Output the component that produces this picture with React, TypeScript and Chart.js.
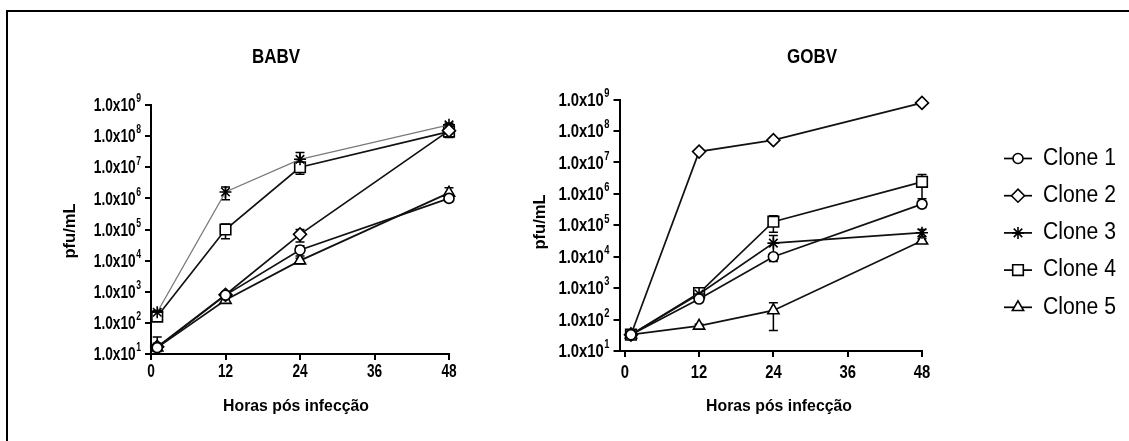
import React, { useEffect, useRef } from 'react';
import { Chart, registerables } from 'chart.js';
import { drawPoint } from 'chart.js/helpers';

Chart.register(...registerables);

// ---------- data ----------
const hours = [1, 12, 24, 48];
const xTicks = [0, 12, 24, 36, 48];
const yTicks = [1e1, 1e2, 1e3, 1e4, 1e5, 1e6, 1e7, 1e8, 1e9];
const yTickExponents = ['1', '2', '3', '4', '5', '6', '7', '8', '9'];
const seriesNames = ['Clone 1', 'Clone 2', 'Clone 3', 'Clone 4', 'Clone 5'];
const pointStyles = ['circle', 'rectRot', 'star', 'rect', 'triangle'];
const xAxisTitle = 'Horas pós infecção';
const yAxisTitle = 'pfu/mL';

// BABV
const babvClone1 = [16, 780, 22000, 1.0e6];
const babvClone2 = [17, 800, 70000, 1.5e8];
const babvClone3 = [220, 1.6e6, 1.8e7, 2.3e8];
const babvClone4 = [160, 1.0e5, 1.0e7, 1.4e8];
const babvClone5 = [16, 540, 10000, 1.5e6];
const babvErr1 = [6, 100, 8000, 1.0e5];
const babvErr2 = [18, 100, 30000, 3.0e7];
const babvErr3 = [30, 7.0e5, 1.2e7, 3.0e7];
const babvErr4 = [30, 5.0e4, 3.0e6, 5.0e7];
const babvErr5 = [4, 50, 2000, 7.0e5];

// GOBV
const gobvClone1 = [33, 450, 10000, 4.7e5];
const gobvClone2 = [33, 2.2e7, 5.1e7, 7.8e8];
const gobvClone3 = [33, 650, 27000, 5.8e4];
const gobvClone4 = [33, 700, 1.3e5, 2.4e6];
const gobvClone5 = [33, 63, 195, 3.2e4];
const gobvErr1 = [5, 80, 2000, 1.0e5];
const gobvErr2 = [5, 2.0e6, 5.0e6, 8.0e7];
const gobvErr3 = [5, 100, 2.0e4, 1.5e4];
const gobvErr4 = [5, 100, 7.0e4, 1.7e6];
const gobvErr5 = [5, 8, 150, 5000];

// ---------- layout / style ----------
const W = 1129;
const H = 441;
const FF = "'Liberation Sans', Arial, Helvetica, sans-serif";
const pointRadii = [5, 6.5, 6, 7.5, 6.5];

type Area = { left: number; right: number; top: number; bottom: number };
type PanelCfg = {
  title: string;
  series: number[][];
  errors: number[][];
  lineColors: string[];
  lineWidths: number[];
  canvasLeft: number;
  canvasWidth: number;
  area: Area;
  xMin: number;
  sx: number;
  titleX: number;
  titleY: number;
  yTitleX: number;
  yTitleY: number;
  xTickY: number;
  xTitleX: number;
  xTitleY: number;
  legend: boolean;
};

const panels: PanelCfg[] = [
  {
    title: 'BABV',
    series: [babvClone1, babvClone2, babvClone3, babvClone4, babvClone5],
    errors: [babvErr1, babvErr2, babvErr3, babvErr4, babvErr5],
    lineColors: ['#111', '#111', '#7a7a7a', '#111', '#111'],
    lineWidths: [1.7, 1.7, 1.3, 1.7, 1.7],
    canvasLeft: 0,
    canvasWidth: 500,
    area: { left: 151, right: 449, top: 105, bottom: 354 },
    xMin: 0,
    sx: 0.72,
    titleX: 276,
    titleY: 57,
    yTitleX: 70,
    yTitleY: 231,
    xTickY: 372,
    xTitleX: 296,
    xTitleY: 406,
    legend: false,
  },
  {
    title: 'GOBV',
    series: [gobvClone1, gobvClone2, gobvClone3, gobvClone4, gobvClone5],
    errors: [gobvErr1, gobvErr2, gobvErr3, gobvErr4, gobvErr5],
    lineColors: ['#111', '#111', '#111', '#111', '#111'],
    lineWidths: [1.7, 1.7, 1.7, 1.7, 1.7],
    canvasLeft: 500,
    canvasWidth: 629,
    area: { left: 619.5, right: 922, top: 99.5, bottom: 351 },
    xMin: -0.85,
    sx: 0.78,
    titleX: 812,
    titleY: 57,
    yTitleX: 540,
    yTitleY: 222,
    xTickY: 373,
    xTitleX: 779,
    xTitleY: 406,
    legend: true,
  },
];

const legendX = 1018;
const legendLine = 14;
const legendTextX = 1043;
const legendY0 = 158.5;
const legendStep = 37.2;

function txt(
  ctx: CanvasRenderingContext2D,
  s: string,
  x: number,
  y: number,
  font: string,
  align: CanvasTextAlign,
  sx: number,
  rot = 0
) {
  ctx.save();
  ctx.translate(x, y);
  if (rot) ctx.rotate(rot);
  ctx.scale(sx, 1);
  ctx.font = font;
  ctx.textAlign = align;
  ctx.textBaseline = 'middle';
  ctx.fillStyle = '#000';
  ctx.fillText(s, 0, 0);
  ctx.restore();
}

function buildConfig(cfg: PanelCfg): any {
  const off = cfg.canvasLeft;
  const datasets = cfg.series.map((vals, i) => ({
    label: seriesNames[i],
    data: hours.map((h, j) => ({ x: h, y: vals[j] })),
    borderColor: cfg.lineColors[i],
    borderWidth: cfg.lineWidths[i],
    pointStyle: pointStyles[i],
    pointRadius: pointRadii[i],
    pointBackgroundColor: '#fff',
    pointBorderColor: '#000',
    pointBorderWidth: 1.6,
    tension: 0,
    clip: false,
    fill: false,
  }));

  const errorBars = {
    id: 'errorBars',
    beforeDatasetsDraw(chart: any) {
      const ctx = chart.ctx as CanvasRenderingContext2D;
      const xs = chart.scales.x;
      const ys = chart.scales.y;
      ctx.save();
      ctx.strokeStyle = '#000';
      ctx.lineWidth = 1.5;
      cfg.series.forEach((vals, i) => {
        vals.forEach((v, j) => {
          const e = cfg.errors[i][j];
          const px = xs.getPixelForValue(hours[j]);
          const top = ys.getPixelForValue(v + e);
          const bot = ys.getPixelForValue(Math.max(v - e, 10));
          ctx.beginPath();
          ctx.moveTo(px, top);
          ctx.lineTo(px, bot);
          ctx.moveTo(px - 4.5, top);
          ctx.lineTo(px + 4.5, top);
          ctx.moveTo(px - 4.5, bot);
          ctx.lineTo(px + 4.5, bot);
          ctx.stroke();
        });
      });
      ctx.restore();
    },
  };

  const texts = {
    id: 'texts',
    afterDraw(chart: any) {
      const ctx = chart.ctx as CanvasRenderingContext2D;
      const xs = chart.scales.x;
      const ys = chart.scales.y;
      const area = chart.chartArea;
      // title
      txt(ctx, cfg.title, cfg.titleX - off, cfg.titleY, `bold 20px ${FF}`, 'center', 0.85);
      // y tick labels
      const baseFont = `bold 19px ${FF}`;
      const expFont = `bold 12px ${FF}`;
      yTicks.forEach((v, k) => {
        const y = ys.getPixelForValue(v);
        const exp = yTickExponents[k];
        ctx.font = expFont;
        const ew = ctx.measureText(exp).width * cfg.sx;
        const xr = area.left - 10;
        txt(ctx, exp, xr - ew, y - 6, expFont, 'left', cfg.sx);
        txt(ctx, '1.0x10', xr - ew - 0.5, y + 1, baseFont, 'right', cfg.sx);
      });
      // x tick labels
      xTicks.forEach((v) => {
        txt(ctx, String(v), xs.getPixelForValue(v), cfg.xTickY, `bold 19px ${FF}`, 'center', cfg.sx);
      });
      // axis titles
      txt(ctx, xAxisTitle, cfg.xTitleX - off, cfg.xTitleY, `bold 17px ${FF}`, 'center', 0.93);
      txt(ctx, yAxisTitle, cfg.yTitleX - off, cfg.yTitleY, `bold 17px ${FF}`, 'center', 0.97, -Math.PI / 2);

      if (cfg.legend) {
        seriesNames.forEach((name, i) => {
          const y = legendY0 + i * legendStep;
          const cx = legendX - off;
          ctx.save();
          ctx.strokeStyle = '#000';
          ctx.lineWidth = 1.7;
          ctx.beginPath();
          ctx.moveTo(cx - legendLine, y);
          ctx.lineTo(cx + legendLine, y);
          ctx.stroke();
          ctx.fillStyle = '#fff';
          ctx.strokeStyle = '#000';
          ctx.lineWidth = 1.6;
          drawPoint(ctx, { pointStyle: pointStyles[i], rotation: 0, radius: pointRadii[i], borderWidth: 1.6 } as any, cx, y);
          ctx.restore();
          txt(ctx, name, legendTextX - off, y, `23px ${FF}`, 'left', 0.92);
        });
      }
    },
  };

  const a = cfg.area;
  return {
    type: 'line',
    data: { datasets },
    plugins: [errorBars, texts],
    options: {
      responsive: false,
      animation: false,
      devicePixelRatio: 1,
      events: [],
      layout: {
        padding: {
          left: a.left - off - 10,
          right: cfg.canvasWidth - (a.right - off),
          top: a.top,
          bottom: H - a.bottom - 10,
        },
      },
      plugins: { legend: { display: false }, tooltip: { enabled: false }, title: { display: false } },
      scales: {
        x: {
          type: 'linear',
          min: cfg.xMin,
          max: 48,
          afterBuildTicks: (s: any) => {
            s.ticks = xTicks.map((v) => ({ value: v }));
          },
          afterFit: (s: any) => {
            s.height = 10;
          },
          ticks: { display: false },
          grid: { display: true, drawOnChartArea: false, drawTicks: true, tickLength: 6, color: '#000', lineWidth: 2 },
          border: { display: true, color: '#000', width: 2 },
        },
        y: {
          type: 'logarithmic',
          min: 10,
          max: 1e9,
          afterBuildTicks: (s: any) => {
            s.ticks = yTicks.map((v) => ({ value: v }));
          },
          afterFit: (s: any) => {
            s.width = 10;
          },
          ticks: { display: false },
          grid: { display: true, drawOnChartArea: false, drawTicks: true, tickLength: 6, color: '#000', lineWidth: 2 },
          border: { display: true, color: '#000', width: 2 },
        },
      },
    },
  };
}

function Panel({ cfg }: { cfg: PanelCfg }) {
  const ref = useRef<HTMLCanvasElement>(null);
  useEffect(() => {
    const chart = new Chart(ref.current as HTMLCanvasElement, buildConfig(cfg));
    return () => chart.destroy();
  }, [cfg]);
  return (
    <canvas
      ref={ref}
      width={cfg.canvasWidth}
      height={H}
      style={{ position: 'absolute', left: cfg.canvasLeft, top: 0, width: cfg.canvasWidth, height: H }}
    />
  );
}

export default function App() {
  return (
    <div style={{ position: 'fixed', left: 0, top: 0, width: W, height: H, overflow: 'hidden', background: '#fff' }}>
      <div
        style={{
          position: 'absolute',
          left: 6,
          top: 10,
          width: 1300,
          height: 600,
          borderLeft: '2px solid #000',
          borderTop: '2px solid #000',
        }}
      />
      {panels.map((p) => (
        <Panel key={p.title} cfg={p} />
      ))}
    </div>
  );
}
